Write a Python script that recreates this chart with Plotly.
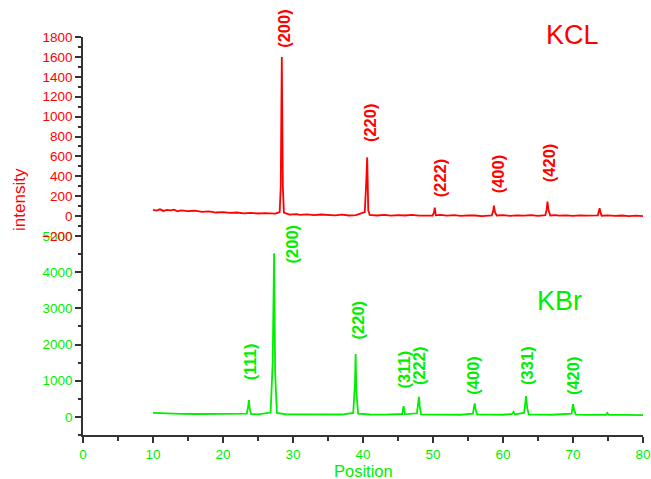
import plotly.graph_objects as go

# ---------------- data ----------------
# KCL pattern (top panel, red)
kcl_x = [10, 10.5, 11, 11.5, 12, 12.5, 13, 13.5, 14, 15, 16, 17, 18, 19, 20, 21, 22, 23, 24,
         25, 26, 27, 27.5, 28.1, 28.25, 28.4, 28.55, 28.7, 29.5, 30.5, 31, 32, 33, 34, 35,
         36, 37, 38, 39, 40.25, 40.45, 40.6, 40.75, 40.95, 42, 43, 44, 45, 46, 47, 48,
         49.95, 50.15, 50.25, 50.4, 51, 52, 53, 54, 55, 56, 57, 58.4, 58.6, 58.7, 58.85,
         59.1, 60, 61, 62, 63, 64, 65, 66.05, 66.25, 66.35, 66.5, 66.75, 67.5, 68, 69, 70,
         71, 72, 73.55, 73.7, 73.8, 73.95, 74.1, 75, 76, 77, 78, 79, 80]
kcl_y = [62, 56, 68, 52, 62, 58, 64, 48, 58, 50, 54, 42, 48, 36, 40, 32, 36, 28, 32,
         26, 30, 22, 24, 40, 300, 1600, 300, 35, 14, 20, 12, 18, 10, 16, 12,
         8, 14, 6, 10, 40, 320, 590, 60, 12, 6, 12, 4, 10, 6, 12, 4,
         6, 40, 85, 8, 12, 4, 10, 2, 8, 6, 0, 8, 50, 105, 40,
         6, 10, 2, 8, 4, 10, 2, 10, 70, 145, 60, 6, 10, 4, 8, 2,
         8, 4, 8, 40, 80, 30, 4, 8, 2, 6, 0, 4, 0]

# KBr pattern (bottom panel, green)
kbr_x = [10, 11, 12, 14, 16, 18, 20, 22, 23.4, 23.6, 23.7, 23.8, 24.0, 25, 26.8, 27.1,
         27.3, 27.45, 27.7, 29, 31, 33, 35, 37, 38.6, 38.85, 38.95, 39.05, 39.3, 41, 43,
         45.6, 45.8, 46.0, 47.7, 47.9, 48.0, 48.1, 48.3, 50, 52, 54, 55.7, 55.85, 55.95,
         56.1, 56.3, 58, 60, 61.3, 61.5, 61.7, 63.0, 63.2, 63.3, 63.45, 63.7, 65, 67, 69.8,
         69.95, 70.0, 70.15, 70.4, 72, 74.7, 74.9, 75.1, 77, 80]
kbr_y = [110, 100, 95, 85, 80, 78, 75, 72, 90, 300, 462, 250, 80, 70, 120, 1500,
         4520, 1200, 110, 70, 68, 66, 64, 66, 110, 900, 1735, 700, 90, 66, 64,
         80, 296, 70, 100, 400, 553, 300, 70, 64, 62, 60, 90, 280, 371,
         200, 66, 62, 60, 80, 138, 70, 110, 400, 573, 250, 66, 62, 60, 90,
         250, 351, 200, 64, 58, 60, 110, 58, 54, 50]

# peak labels (Miller indices) and where they are written
kcl_labels = ["(200)", "(220)", "(222)", "(400)", "(420)"]
kcl_label_x = [28.8, 41.0, 51.05, 59.2, 66.6]
kcl_label_y = [1672, 719, 168, 208, 318]

kbr_labels = ["(111)", "(200)", "(220)", "(311)", "(222)", "(400)", "(331)", "(420)"]
kbr_label_x = [23.8, 29.85, 39.3, 45.9, 48.1, 55.75, 63.5, 70.1]
kbr_label_y = [960, 4198, 2075, 739, 830, 553, 830, 553]

RED = "#ff0000"
GREEN = "#00ee00"
AXIS = "#333333"
FONT = "Liberation Sans, Arial"

fig = go.Figure()
fig.add_trace(go.Scatter(x=kcl_x, y=kcl_y, mode="lines", yaxis="y2",
                         line=dict(color=RED, width=1.8), showlegend=False))
fig.add_trace(go.Scatter(x=kbr_x, y=kbr_y, mode="lines", yaxis="y",
                         line=dict(color=GREEN, width=1.8), showlegend=False))

ann = []
for t, x, y in zip(kcl_labels, kcl_label_x, kcl_label_y):
    ann.append(dict(text=t, x=x, y=y, xref="x", yref="y2", textangle=-90,
                    xanchor="center", yanchor="bottom", showarrow=False,
                    font=dict(family=FONT, size=16.5, color=RED, weight="bold")))
for t, x, y in zip(kbr_labels, kbr_label_x, kbr_label_y):
    ann.append(dict(text=t, x=x, y=y, xref="x", yref="y", textangle=-90,
                    xanchor="center", yanchor="bottom", showarrow=False,
                    font=dict(family=FONT, size=16.5, color=GREEN, weight="bold")))

ann.append(dict(text="KCL", x=0.874, y=1.005, xref="paper", yref="paper",
                xanchor="center", yanchor="middle", showarrow=False,
                font=dict(family=FONT, size=27, color=RED)))
ann.append(dict(text="KBr", x=0.851, y=0.337, xref="paper", yref="paper",
                xanchor="center", yanchor="middle", showarrow=False,
                font=dict(family=FONT, size=27, color=GREEN)))
ann.append(dict(text="intensity", x=-0.1126, y=0.593, xref="paper", yref="paper",
                textangle=-90, xanchor="center", yanchor="middle", showarrow=False,
                font=dict(family=FONT, size=17, color=RED)))
ann.append(dict(text="Position", x=0.5, y=-0.0905, xref="paper", yref="paper",
                xanchor="center", yanchor="middle", showarrow=False,
                font=dict(family=FONT, size=16.5, color=GREEN)))

common = dict(showgrid=False, zeroline=False, showline=True, linecolor=AXIS, linewidth=1.5,
              ticks="outside", ticklen=6, tickwidth=1.5, tickcolor=AXIS, automargin=False,
              tickmode="linear", tick0=0)

fig.update_layout(
    width=651, height=479,
    margin=dict(l=83, r=8, t=37, b=44, autoexpand=False),
    paper_bgcolor="white", plot_bgcolor="white",
    font=dict(family=FONT),
    annotations=ann,
    xaxis=dict(range=[0, 80], dtick=10,
               tickfont=dict(size=13.5, color=GREEN),
               minor=dict(dtick=5, ticks="outside", ticklen=4, tickwidth=1.5, tickcolor=AXIS),
               **common),
    yaxis=dict(domain=[0, 0.5], range=[-500, 5000], dtick=1000,
               tickfont=dict(size=13.5, color=GREEN),
               minor=dict(dtick=500, ticks="outside", ticklen=3, tickwidth=1.5, tickcolor=AXIS),
               **common),
    yaxis2=dict(domain=[0.5, 1], range=[-200, 1800], dtick=200, anchor="x",
                tickfont=dict(size=13.5, color=RED),
                minor=dict(dtick=100, ticks="outside", ticklen=3, tickwidth=1.5, tickcolor=AXIS),
                **common),
)

fig.write_html("out.html")
